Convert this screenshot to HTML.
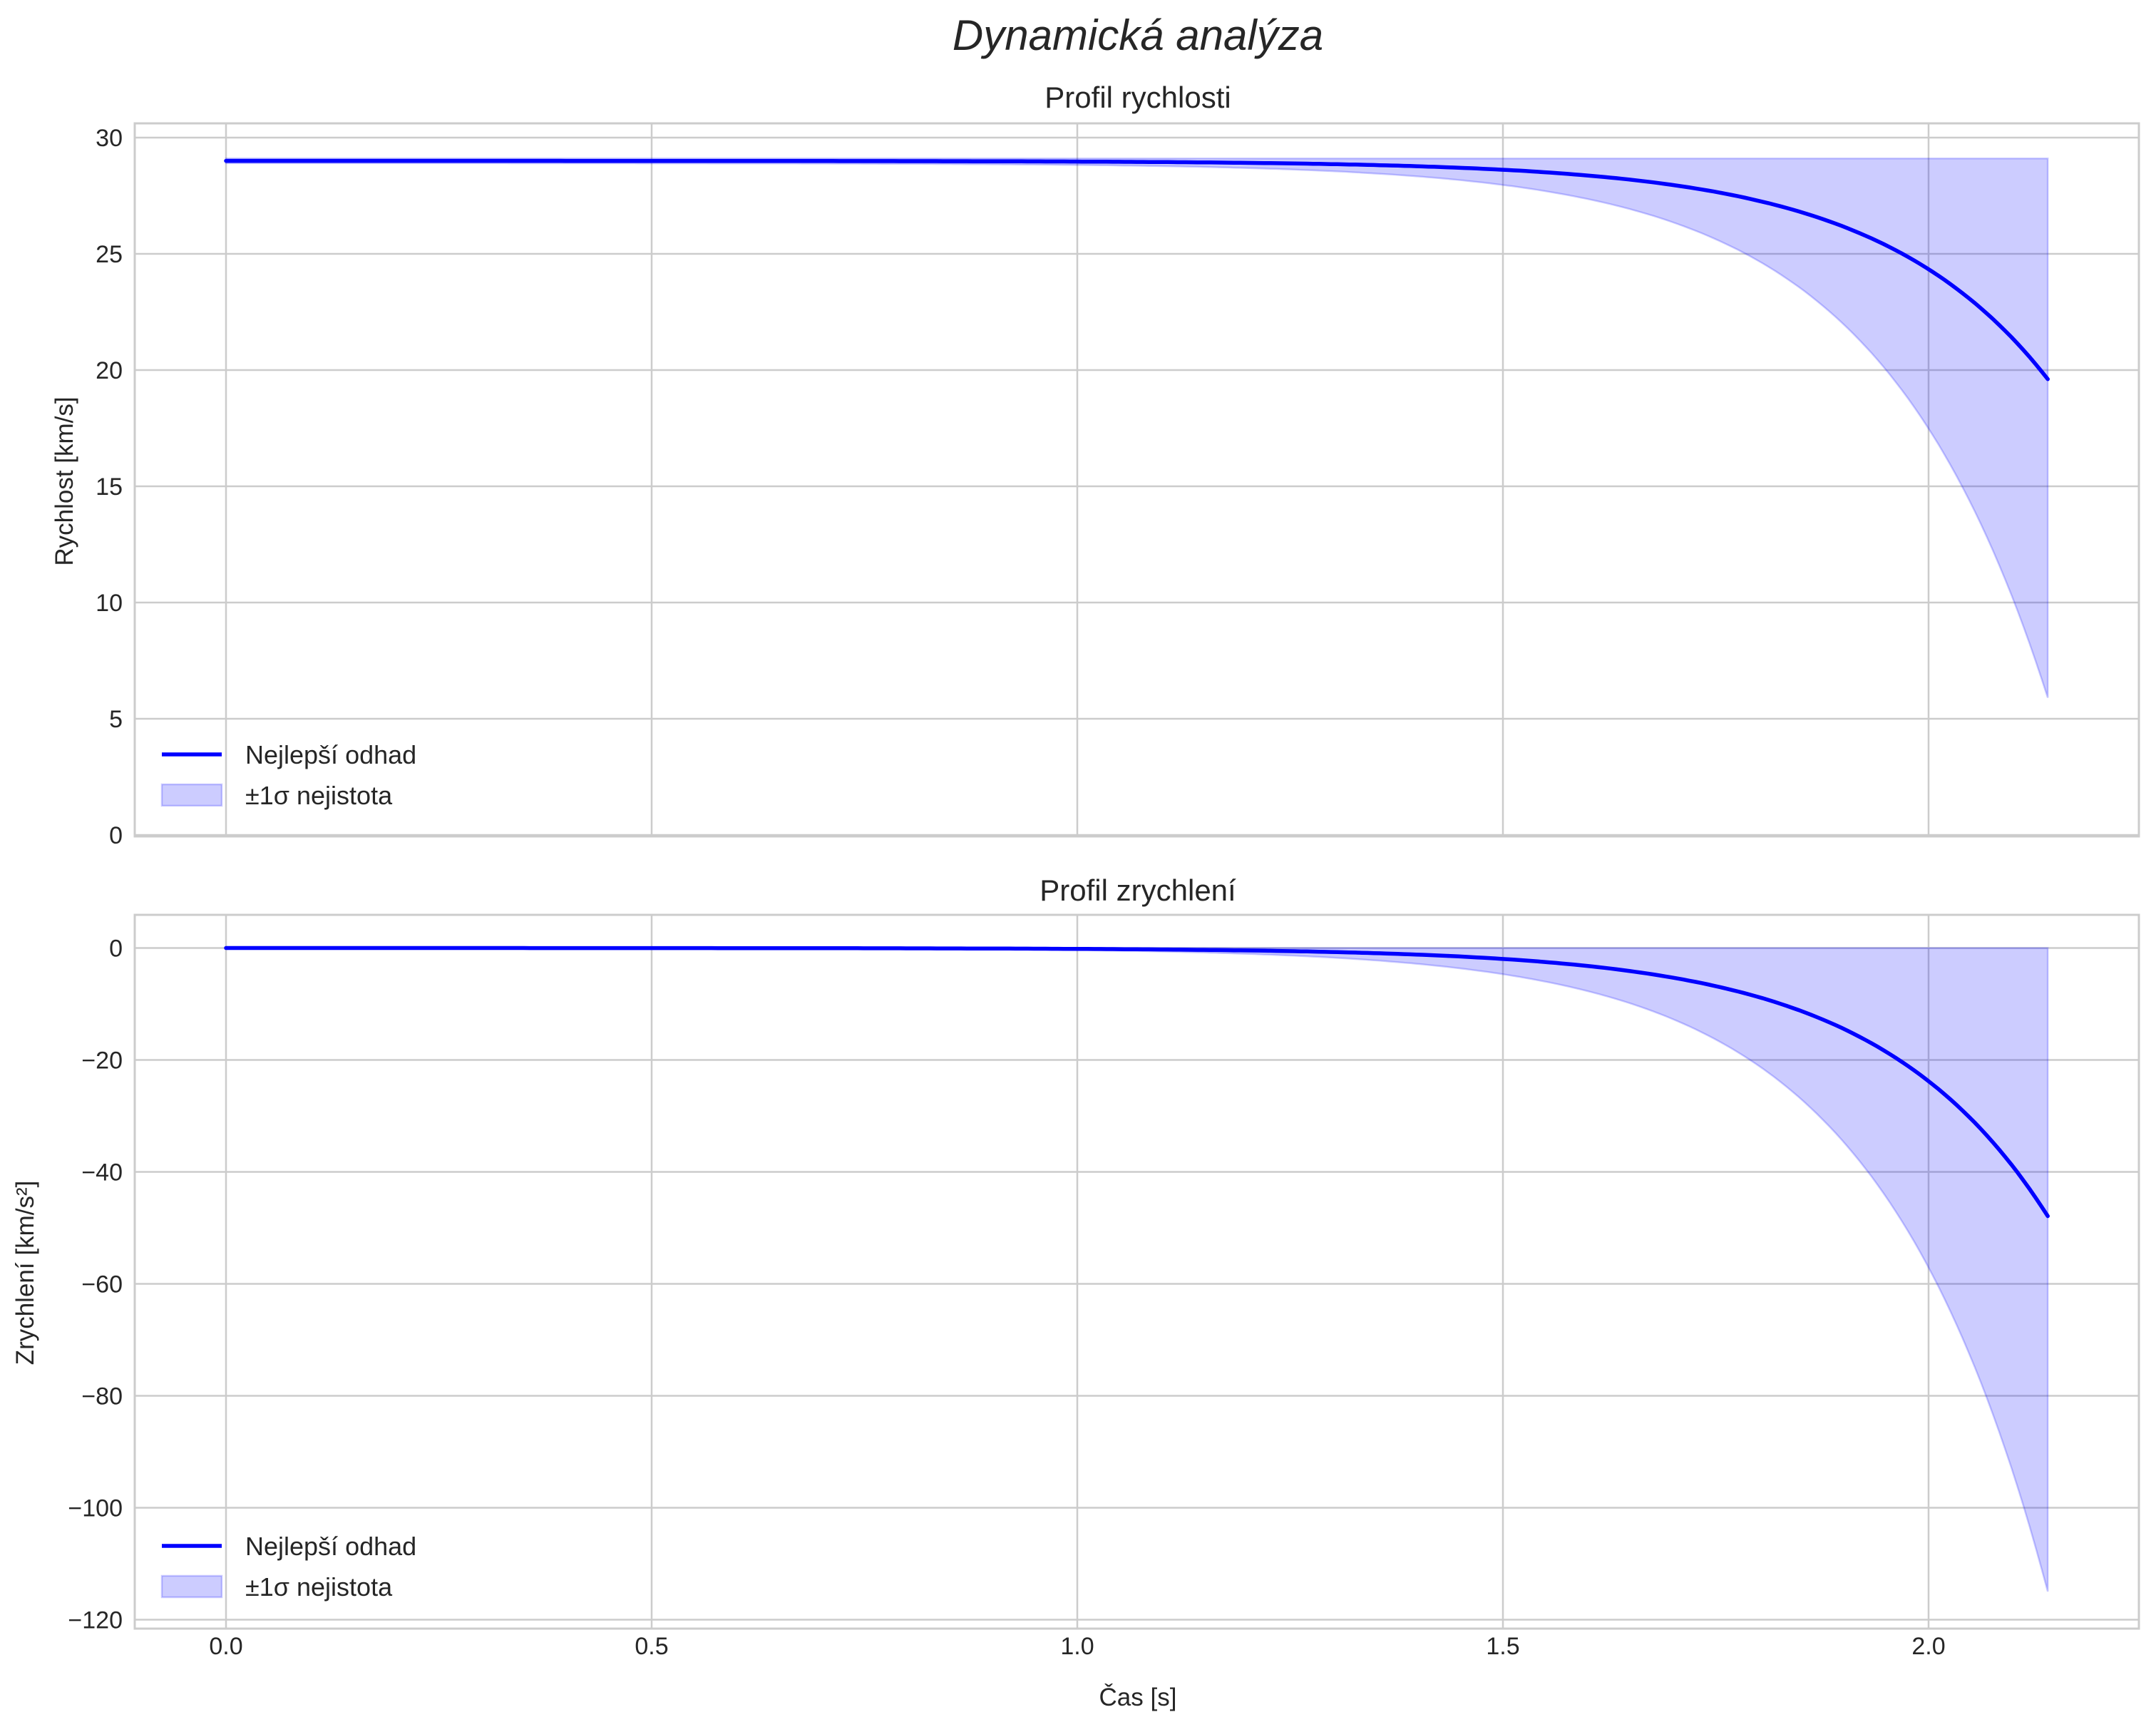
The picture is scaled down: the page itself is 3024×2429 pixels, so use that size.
<!DOCTYPE html>
<html><head><meta charset="utf-8"><style>
body{margin:0;background:#fff}
svg text{font-family:"Liberation Sans",sans-serif;fill:#262626}
</style></head><body>
<svg id="s" width="3024" height="2424" xmlns="http://www.w3.org/2000/svg">
<rect width="3024" height="2424" fill="#fff"/>
<text x="1596" y="70" font-size="60" font-style="italic" text-anchor="middle">Dynamická analýza</text>
<text x="1596" y="151" font-size="42" text-anchor="middle">Profil rychlosti</text>
<text x="1596" y="1263" font-size="42" text-anchor="middle">Profil zrychlení</text>
<text transform="translate(102,675) rotate(-90)" font-size="35" text-anchor="middle">Rychlost [km/s]</text>
<text transform="translate(47,1785) rotate(-90)" font-size="35" text-anchor="middle">Zrychlení [km/s²]</text>
<text x="1596" y="2392" font-size="35" text-anchor="middle">Čas [s]</text>
<g id="g"></g>
</svg>
<script>
const g=document.getElementById('g');let h='';
const X=t=>317+t*1194;
const Y1=v=>1171-v*32.6, Y2=a=>1329.5-a*7.85;
const GC='#cccccc';
for(let i=0;i<=6;i++){const y=Y1(i*5);h+=`<line x1="189" x2="3000" y1="${y}" y2="${y}" stroke="${GC}" stroke-width="2.5"/><text x="172" y="${y+12}" font-size="34" text-anchor="end">${i*5}</text>`;}
for(let i=0;i<=6;i++){const a=-i*20;const y=Y2(a);h+=`<line x1="189" x2="3000" y1="${y}" y2="${y}" stroke="${GC}" stroke-width="2.5"/><text x="172" y="${y+12}" font-size="34" text-anchor="end">${a==0?'0':'−'+(-a)}</text>`;}
for(let i=0;i<=4;i++){const x=X(i*0.5);h+=`<line x1="${x}" x2="${x}" y1="173" y2="1173" stroke="${GC}" stroke-width="2.5"/><line x1="${x}" x2="${x}" y1="1283" y2="2284" stroke="${GC}" stroke-width="2.5"/><text x="${x}" y="2320" font-size="34" text-anchor="middle">${(i*0.5).toFixed(1)}</text>`;}
const A=0.00108,B=5,T=2.14,N=300;
let vl=[],vu=[],vm=[],al=[],au=[],am=[];
for(let i=0;i<=N;i++){const t=T*i/N;const e=A*Math.exp(B*t);
const v=29-e/B*0.98, a=-e;
vm.push([X(t),Y1(v)]);vl.push([X(t),Y1(29-(e/B)*2.4-0.1)]);vu.push([X(t),Y1(29.1)]);
am.push([X(t),Y2(a)]);al.push([X(t),Y2(a*2.4)]);au.push([X(t),Y2(0)]);}
const P=a=>a.map(p=>p[0].toFixed(1)+','+p[1].toFixed(1)).join(' ');
const band=(l,u)=>`<polygon points="${P(u)} ${P(l.slice().reverse())}" fill="rgba(0,0,255,0.2)" stroke="rgba(0,0,255,0.2)" stroke-width="2.5"/>`;
h+=band(vl,vu)+band(al,au);
h+=`<polyline points="${P(vm)}" fill="none" stroke="#0000ff" stroke-width="5.5" stroke-linecap="round"/>`;
h+=`<polyline points="${P(am)}" fill="none" stroke="#0000ff" stroke-width="5.5" stroke-linecap="round"/>`;
h+=`<rect x="189" y="173" width="2811" height="1000" fill="none" stroke="${GC}" stroke-width="3"/>`;
h+=`<rect x="189" y="1283" width="2811" height="1001" fill="none" stroke="${GC}" stroke-width="3"/>`;
for(const y of [1058,2168]){
h+=`<line x1="227" x2="311" y1="${y}" y2="${y}" stroke="#0000ff" stroke-width="5.5"/>`;
h+=`<text x="344" y="${y+13}" font-size="36">Nejlepší odhad</text>`;
h+=`<rect x="227" y="${y+42}" width="84" height="30" fill="rgba(0,0,255,0.2)" stroke="rgba(0,0,255,0.2)" stroke-width="2.5"/>`;
h+=`<text x="344" y="${y+70}" font-size="36">±1σ nejistota</text>`;}
g.innerHTML=h;
</script>
</body></html>
